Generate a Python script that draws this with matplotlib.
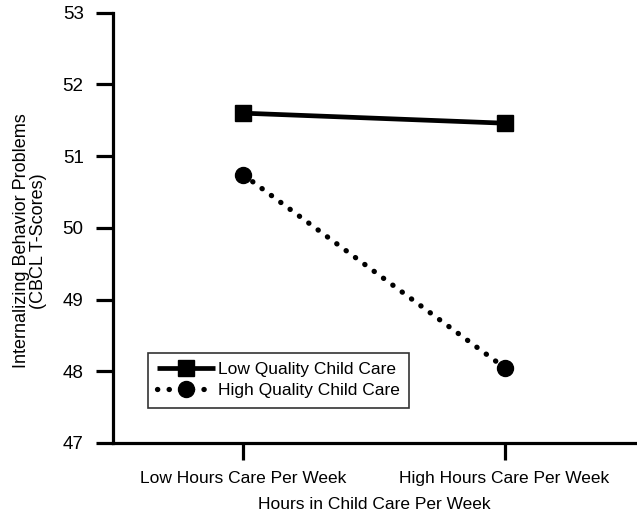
import matplotlib
matplotlib.use("Agg")
import matplotlib.pyplot as plt

categories = ["Low Hours Care Per Week", "High Hours Care Per Week"]
low_quality = [51.60, 51.46]
high_quality = [50.74, 48.05]
y_ticks = [47, 48, 49, 50, 51, 52, 53]

plt.rcParams["font.family"] = ["Liberation Sans", "DejaVu Sans"]

fig = plt.figure(figsize=(6.37, 5.12), dpi=100)
ax = fig.add_axes([0.177, 0.135, 0.82, 0.84])

x = list(range(len(categories)))
ax.plot(x, low_quality, color="black", lw=3.4, marker="s", ms=11,
        label="Low Quality Child Care", solid_capstyle="butt")
ax.plot(x, high_quality, color="black", lw=3.8, marker="o", ms=11.5,
        linestyle=(0, (0.05, 2.15)), dash_capstyle="round",
        label="High Quality Child Care")

ax.set_xlim(-0.5, 1.5)
ax.set_ylim(47, 53)
ax.set_yticks(y_ticks)
ax.set_xticks(x)
ax.set_xticklabels(categories)

for side in ["top", "right"]:
    ax.spines[side].set_visible(False)
for side in ["left", "bottom"]:
    ax.spines[side].set_linewidth(2.3)
    ax.spines[side].set_capstyle("projecting")

ax.tick_params(axis="both", direction="out", length=12, width=2.3,
               labelsize=13.5, pad=9)
ax.tick_params(axis="x", pad=8, labelsize=12.5)

ax.set_xlabel("Hours in Child Care Per Week", fontsize=12.5, labelpad=8)
ax.set_ylabel("Internalizing Behavior Problems\n(CBCL T-Scores)",
              fontsize=13, linespacing=1.0)
ax.yaxis.set_label_coords(-0.126, 0.47)

leg = ax.legend(loc="lower left", bbox_to_anchor=(0.067, 0.081), fontsize=12.5,
                frameon=True, fancybox=False, edgecolor="black",
                handlelength=3.3, handletextpad=0.2, borderpad=0.55,
                labelspacing=0.35, borderaxespad=0)
leg.get_frame().set_linewidth(1.2)

fig.savefig("out.png", dpi=100)
